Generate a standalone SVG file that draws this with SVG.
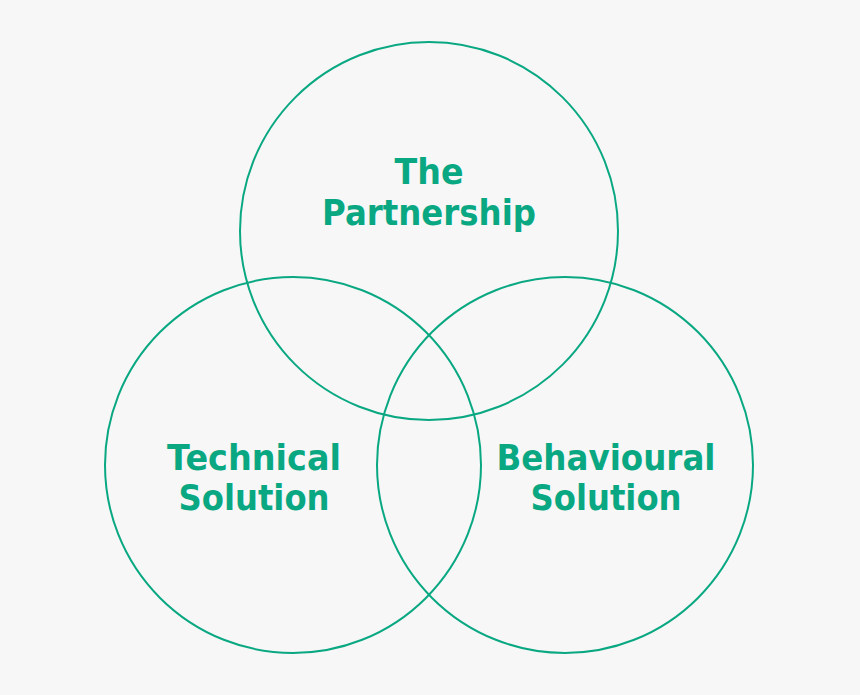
<svg xmlns="http://www.w3.org/2000/svg" width="860" height="695" viewBox="0 0 860 695">
<style>
.c{fill:none;stroke:#0aa882;stroke-width:2}
.t{fill:#0aa882;font-family:"DejaVu Sans",sans-serif;font-weight:bold;font-size:35px;text-anchor:middle}
</style>
<rect width="860" height="695" fill="#f7f7f7"/>
<g id="partnership"><circle class="c" cx="429" cy="231" r="189"/><text class="t" x="429" y="184" textLength="69" lengthAdjust="spacingAndGlyphs">The</text><text class="t" x="429" y="225" textLength="214" lengthAdjust="spacingAndGlyphs">Partnership</text></g>
<g id="technical"><circle class="c" cx="293" cy="465" r="188"/><text class="t" x="254" y="470" textLength="174" lengthAdjust="spacingAndGlyphs">Technical</text><text class="t" x="254" y="510" textLength="151" lengthAdjust="spacingAndGlyphs">Solution</text></g>
<g id="behavioural"><circle class="c" cx="565" cy="465" r="188"/><text class="t" x="606" y="470" textLength="219" lengthAdjust="spacingAndGlyphs">Behavioural</text><text class="t" x="606" y="510" textLength="151" lengthAdjust="spacingAndGlyphs">Solution</text></g>
<g id="connectors"/>
</svg>
